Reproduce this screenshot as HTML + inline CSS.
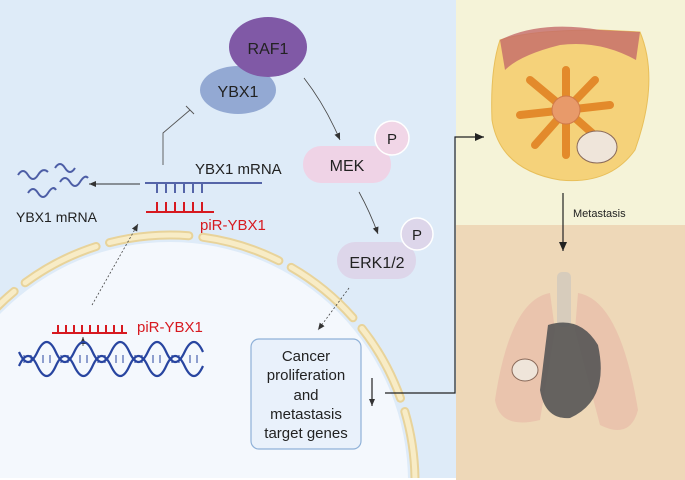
<!DOCTYPE html>
<html><head><style>
html,body{margin:0;padding:0;width:685px;height:480px;overflow:hidden;font-family:"Liberation Sans",sans-serif}
svg{display:block}
text{font-family:"Liberation Sans",sans-serif}
</style></head><body>
<svg width="685" height="480" viewBox="0 0 685 480" xmlns="http://www.w3.org/2000/svg">
<defs>
<marker id="a" markerWidth="8" markerHeight="8" refX="7" refY="4" orient="auto" markerUnits="userSpaceOnUse"><path d="M0,1 L7,4 L0,7z" fill="#333"/></marker>
<marker id="b" markerWidth="10" markerHeight="10" refX="9" refY="5" orient="auto" markerUnits="userSpaceOnUse"><path d="M0,1 L9,5 L0,9z" fill="#222"/></marker>
<clipPath id="lp"><rect x="0" y="0" width="456" height="478"/></clipPath>
</defs>
<rect width="685" height="480" fill="#fff"/>
<rect x="0" y="0" width="456" height="478" fill="#deebf8"/>
<rect x="456" y="0" width="229" height="225" fill="#f5f3d8"/>
<rect x="456" y="225" width="229" height="255" fill="#eed8b8"/>
<g clip-path="url(#lp)">
<ellipse cx="170" cy="482" rx="238" ry="240" fill="#f4f8fd"/>
<ellipse cx="170" cy="482" rx="245" ry="247" fill="none" stroke="#e8d39a" stroke-width="9" stroke-dasharray="80 14" stroke-dashoffset="30" stroke-linecap="round"/>
<ellipse cx="170" cy="482" rx="245" ry="247" fill="none" stroke="#f8ecc6" stroke-width="5" stroke-dasharray="80 14" stroke-dashoffset="30" stroke-linecap="round"/>
</g>
<ellipse cx="238" cy="90" rx="38" ry="24" fill="#93a9d3"/>
<ellipse cx="268" cy="47" rx="39" ry="30" fill="#8059a6"/>
<text x="268" y="54" font-size="16" text-anchor="middle" fill="#222">RAF1</text>
<text x="238" y="97" font-size="16" text-anchor="middle" fill="#222">YBX1</text>
<rect x="303" y="146" width="88" height="37" rx="18" fill="#efd3e6"/>
<circle cx="392" cy="138" r="17" fill="#f1d6e7" stroke="#fff" stroke-width="1.5"/>
<text x="347" y="171" font-size="16" text-anchor="middle" fill="#222">MEK</text>
<text x="392" y="144" font-size="15" text-anchor="middle" fill="#222">P</text>
<rect x="337" y="242" width="79" height="37" rx="18" fill="#ddd6ea"/>
<circle cx="417" cy="234" r="16" fill="#ddd6ea" stroke="#fff" stroke-width="1.5"/>
<text x="377" y="268" font-size="16" text-anchor="middle" fill="#222">ERK1/2</text>
<text x="417" y="240" font-size="15" text-anchor="middle" fill="#222">P</text>
<rect x="251" y="339" width="110" height="110" rx="8" fill="#e9f1fb" stroke="#8fb1d8" stroke-width="1.2"/>
<g font-size="15" text-anchor="middle" fill="#222"><text x="306" y="361">Cancer</text><text x="306" y="380">proliferation</text><text x="306" y="400">and</text><text x="306" y="419">metastasis</text><text x="306" y="438">target genes</text></g>
<path d="M304,78 Q325,105 340,140" fill="none" stroke="#444" stroke-width="0.8" marker-end="url(#a)"/>
<path d="M359,192 Q370,212 378,234" fill="none" stroke="#444" stroke-width="0.8" marker-end="url(#a)"/>
<path d="M349,288 L318,330" fill="none" stroke="#444" stroke-width="0.8" stroke-dasharray="2 2" marker-end="url(#a)"/>
<path d="M372,378 L372,406" stroke="#222" stroke-width="1.2" marker-end="url(#a)"/>
<path d="M385,393 L455,393 L455,137 L484,137" fill="none" stroke="#222" stroke-width="1.2" marker-end="url(#b)"/>
<path d="M163,165 L163,133 L190,110 M186,106 L194,114" fill="none" stroke="#555" stroke-width="0.9"/>
<path d="M145,183 H262 M157,183V193 M166,183V193 M175,183V193 M184,183V193 M193,183V193 M202,183V193" stroke="#5565a8" stroke-width="2"/>
<path d="M146,212 H214 M157,212V202 M166,212V202 M175,212V202 M184,212V202 M193,212V202 M202,212V202" stroke="#d71920" stroke-width="2"/>
<text x="195" y="174" font-size="15" fill="#222">YBX1 mRNA</text>
<text x="200" y="230" font-size="15" fill="#d71920">piR-YBX1</text>
<path d="M140,184 L89,184" stroke="#333" stroke-width="0.9" marker-end="url(#a)"/>
<g fill="none" stroke="#4d5ea6" stroke-width="2"><path d="M18,175 q5,-8 10,0 t10,0 t10,-3"/><path d="M55,168 q5,-8 10,0 t10,0"/><path d="M60,182 q5,-8 10,0 t10,0 t8,-4"/><path d="M28,193 q5,-8 10,0 t10,0 t8,-3"/></g>
<text x="16" y="222" font-size="14" fill="#222">YBX1 mRNA</text>
<path d="M92,305 L138,224" stroke="#444" stroke-width="0.8" stroke-dasharray="2 2" marker-end="url(#a)"/>
<path d="M52,333 H127 M58,333V325 M66,333V325 M74,333V325 M82,333V325 M90,333V325 M98,333V325 M106,333V325 M114,333V325 M122,333V325" stroke="#d71920" stroke-width="2"/>
<text x="137" y="332" font-size="15" fill="#d71920">piR-YBX1</text>
<path d="M83,346 L83,337" stroke="#333" stroke-width="0.8" marker-end="url(#a)"/>
<g fill="none" stroke="#2845a0" stroke-width="2.2"><path d="M19,352 q9,20 18.4,0 t18.4,0 t18.4,0 t18.4,0 t18.4,0 t18.4,0 t18.4,0 t18.4,0 t18.4,0 t18.4,0"/><path d="M19,366 q9,-20 18.4,0 t18.4,0 t18.4,0 t18.4,0 t18.4,0 t18.4,0 t18.4,0 t18.4,0 t18.4,0 t18.4,0"/></g>
<g stroke="#2845a0" stroke-width="1"><path d="M24,355V363 M31,355V363 M43,355V363 M50,355V363 M61,355V363 M68,355V363 M80,355V363 M87,355V363 M98,355V363 M105,355V363 M116,355V363 M123,355V363 M135,355V363 M142,355V363 M153,355V363 M160,355V363 M172,355V363 M179,355V363 M190,355V363 M197,355V363"/></g>
<path d="M500,40 Q530,30 600,30 L640,32 Q660,80 635,150 Q610,185 560,180 Q500,170 492,120 Q490,70 500,40z" fill="#f5d27a" stroke="#e8bf5a"/>
<path d="M500,40 Q540,20 600,30 L640,32 L636,60 Q600,40 560,45 Q520,55 505,70z" fill="#c46a6a" opacity="0.8"/>
<g stroke="#e38a2b" stroke-width="8" stroke-linecap="round"><path d="M566,110 L566,70 M566,110 L595,80 M566,110 L610,105 M566,110 L600,140 M566,110 L566,155 M566,110 L535,145 M566,110 L520,115 M566,110 L530,80"/></g>
<circle cx="566" cy="110" r="14" fill="#e89a6a" stroke="#d07a4a"/>
<ellipse cx="597" cy="147" rx="20" ry="16" fill="#efe5da" stroke="#8a6a5a"/>
<path d="M563,193 L563,251" stroke="#222" stroke-width="1.2" marker-end="url(#b)"/>
<text x="573" y="217" font-size="11" fill="#222">Metastasis</text>
<rect x="557" y="272" width="14" height="55" rx="5" fill="#d7ccbc"/>
<path d="M550,293 Q510,300 495,400 Q500,430 540,420 L555,330z" fill="#e9bfaa" opacity="0.8"/>
<path d="M578,293 Q620,300 638,410 Q630,440 600,425 L575,330z" fill="#e9bfaa" opacity="0.8"/>
<path d="M548,325 Q580,315 598,345 Q610,400 570,418 Q545,420 540,390z" fill="#555" opacity="0.9"/>
<ellipse cx="525" cy="370" rx="13" ry="11" fill="#efe5da" stroke="#8a6a5a"/>
</svg>
</body></html>
